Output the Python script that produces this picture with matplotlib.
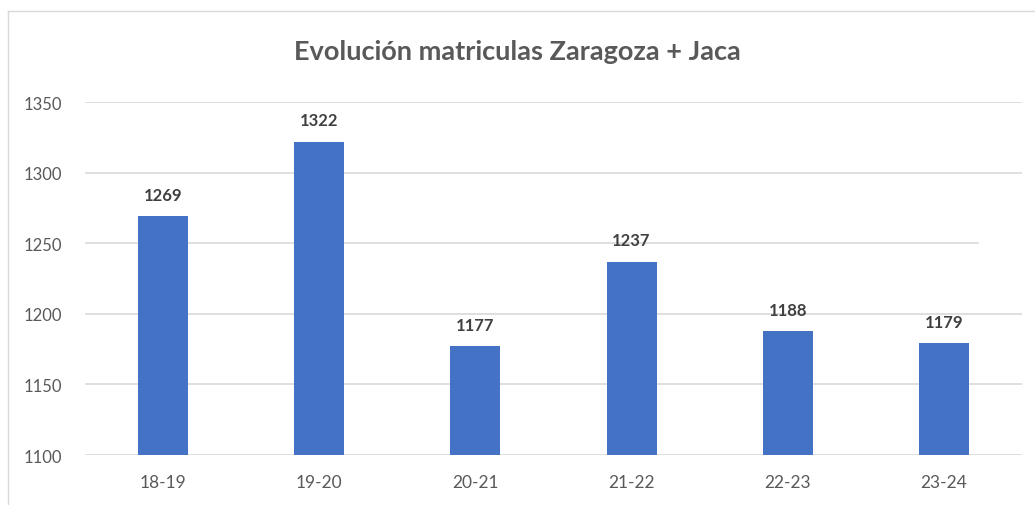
import matplotlib.pyplot as plt
import numpy as np

# Datos
cursos = ['18-19', '19-20', '20-21', '21-22', '22-23', '23-24']
matriculas = [1269, 1322, 1177, 1237, 1188, 1179]
ticks_y = [1100, 1150, 1200, 1250, 1300, 1350]

plt.rcParams['font.family'] = ['Lato', 'DejaVu Sans']

fig = plt.figure(figsize=(10.35, 5.06), dpi=100)
ax = fig.add_axes([85 / 1035, 1 - 456 / 506, (1022 - 85) / 1035, (456 - 103) / 506])

x = np.arange(len(cursos))
ax.bar(x, matriculas, width=0.32, color='#4472C4', zorder=3)

for xi, v in zip(x, matriculas):
    ax.annotate(str(v), (xi, v), xytext=(0, 9.5), textcoords='offset points',
                ha='center', va='bottom', fontsize=12, fontweight='bold', color='#404040')

ax.set_xlim(-0.5, len(cursos) - 0.5)
ax.set_ylim(1100, 1350)
ax.set_yticks(ticks_y)
ax.set_xticks(x)
ax.set_xticklabels(cursos)

# Líneas de la cuadrícula (la de 1250 aparece algo más corta en el original)
for t in ticks_y:
    xmax = 0.953 if t == 1250 else 1
    ax.axhline(t, xmin=0, xmax=xmax, color='#D9D9D9', linewidth=1.2, zorder=1)

for s in ax.spines.values():
    s.set_visible(False)
ax.tick_params(length=0, labelcolor='#595959')
ax.tick_params(axis='y', labelsize=12, pad=44.5)
ax.tick_params(axis='x', labelsize=12.5, pad=14)
for lab in ax.get_yticklabels():
    lab.set_horizontalalignment('left')

fig.text(0.5, 1 - 52 / 506, 'Evolución matriculas Zaragoza + Jaca', ha='center', va='center',
         fontsize=19.5, fontweight='bold', color='#595959')

# Borde del área del gráfico
fig.add_artist(plt.Line2D([8 / 1035, 8 / 1035], [0, 1 - 12 / 506], transform=fig.transFigure,
                          color='#D9D9D9', linewidth=1))
fig.add_artist(plt.Line2D([8 / 1035, 1], [1 - 12 / 506, 1 - 12 / 506], transform=fig.transFigure,
                          color='#D9D9D9', linewidth=1))

fig.savefig('out.png', dpi=100)
